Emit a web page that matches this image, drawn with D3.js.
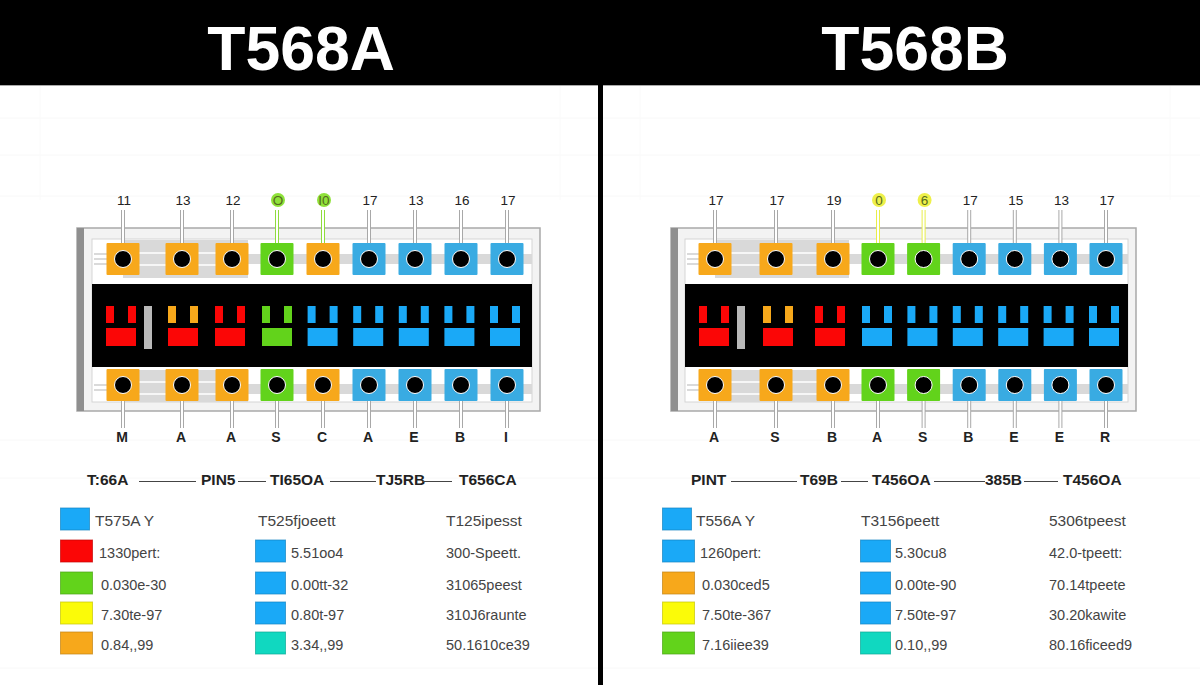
<!DOCTYPE html>
<html>
<head>
<meta charset="utf-8">
<title>T568A / T568B</title>
<script src="https://cdn.jsdelivr.net/npm/d3@7/dist/d3.min.js"></script>
<style>
  html, body { margin: 0; padding: 0; background: #fff; }
  svg { display: block; }
  text { font-family: "Liberation Sans", Arial, sans-serif; }
</style>
</head>
<body>
<div id="chart"></div>
<script>
// Data
const pins = [0, 1, 2, 3, 4, 5, 6, 7, 8];
const rows = [0, 1, 2, 3, 4];

const aTitle = "T568A";
const aTopLabels = ["11", "13", "12", "O", "I0", "17", "13", "16", "17"];
const aBottomLabels = ["M", "A", "A", "S", "C", "A", "E", "B", "I"];
const aPinColors = ["orange", "orange", "orange", "green", "orange", "blue", "blue", "blue", "blue"];
const aPlugTopColors = ["red", "orange", "red", "green", "sky", "sky", "sky", "sky", "sky"];
const aPlugColors = ["red", "red", "red", "green", "sky", "sky", "sky", "sky", "sky"];
const aHeader = ["T:66A", "PIN5", "TI65OA", "TJ5RB", "T656CA"];
const aSwatches1 = ["sky", "red", "green", "yellow", "orange"];
const aSwatches2 = [null, "sky", "sky", "sky", "teal"];
const aText1 = ["T575A Y", "1330pert:", "0.030e-30", "7.30te-97", "0.84,,99"];
const aText2 = ["T525fjoeett", "5.51oo4", "0.00tt-32", "0.80t-97", "3.34,,99"];
const aText3 = ["T125ipesst", "300-Speett.", "31065peest", "310J6raunte", "50.1610ce39"];

const bTitle = "T568B";
const bTopLabels = ["17", "17", "19", "0", "6", "17", "15", "13", "17"];
const bBottomLabels = ["A", "S", "B", "A", "S", "B", "E", "E", "R"];
const bPinColors = ["orange", "orange", "orange", "green", "green", "blue", "blue", "blue", "blue"];
const bPlugTopColors = ["red", "orange", "red", "sky", "sky", "sky", "sky", "sky", "sky"];
const bPlugColors = ["red", "red", "red", "sky", "sky", "sky", "sky", "sky", "sky"];
const bHeader = ["PINT", "T69B", "T456OA", "385B", "T456OA"];
const bSwatches1 = ["sky", "sky", "orange", "yellow", "green"];
const bSwatches2 = [null, "sky", "sky", "sky", "teal"];
const bText1 = ["T556A Y", "1260pert:", "0.030ced5", "7.50te-367", "7.16iiee39"];
const bText2 = ["T3156peett", "5.30cu8", "0.00te-90", "7.50te-97", "0.10,,99"];
const bText3 = ["5306tpeest", "42.0-tpeett:", "70.14tpeete", "30.20kawite", "80.16ficeed9"];

const svgWidth = 1200;
const svgHeight = 685;

const color = d3.scaleOrdinal()
  .domain(["orange", "green", "blue", "sky", "red", "yellow", "teal"])
  .range(["#f7a81b", "#62d31b", "#39abe2", "#1aa9f7", "#fb0606", "#fbfb08", "#10d8c0"]);

const svg = d3.select("#chart")
  .append("svg")
  .attr("width", svgWidth)
  .attr("height", svgHeight);

svg.append("rect").attr("width", svgWidth).attr("height", svgHeight).attr("fill", "#fff");

// very faint background grid
const faintH = [118, 155, 196, 440, 478, 668];
const faintV = [40, 560, 640, 1170];
svg.selectAll(".faintH").data(faintH).enter().append("line")
  .attr("x1", 0).attr("x2", svgWidth).attr("y1", d => d).attr("y2", d => d)
  .attr("stroke", "#f8f8f8");
svg.selectAll(".faintV").data(faintV).enter().append("line")
  .attr("x1", d => d).attr("x2", d => d).attr("y1", 85).attr("y2", 200)
  .attr("stroke", "#fafafa");

// header bar and divider
svg.append("rect").attr("width", svgWidth).attr("height", 85).attr("fill", "#000");
svg.append("line").attr("x1", 0).attr("x2", svgWidth).attr("y1", 85.5).attr("y2", 85.5)
  .attr("stroke", "#aaa");
svg.append("rect").attr("x", 598).attr("y", 85).attr("width", 5).attr("height", 600).attr("fill", "#000");

const rowScale = d3.scaleLinear().domain([0, 2, 4]).range([519, 583, 643]);

function drawPanel(p) {
  const g = svg.append("g");

  // pins are not evenly spaced on the left, so piecewise scales
  const pinX = d3.scaleLinear().domain([0, 1, 2, 3, 8]).range(p.pinRange);
  const plugX = d3.scaleLinear().domain([0, 1, 2, 3, 8]).range(p.plugRange);

  g.append("text")
    .attr("x", p.titleX).attr("y", 70)
    .attr("text-anchor", "middle")
    .attr("font-size", 62.5).attr("font-weight", "bold").attr("fill", "#fff")
    .text(p.title);

  // housing
  g.append("rect")
    .attr("x", p.frame[0]).attr("y", 228)
    .attr("width", p.frame[1] - p.frame[0]).attr("height", 183)
    .attr("fill", "#f3f3f3").attr("stroke", "#a9a9a9").attr("stroke-width", 1.5);
  g.append("rect")
    .attr("x", p.frame[0]).attr("y", 228)
    .attr("width", 7).attr("height", 183).attr("fill", "#8f8f8f");
  g.append("rect")
    .attr("x", p.inner[0]).attr("y", 239)
    .attr("width", p.inner[1] - p.inner[0]).attr("height", 163)
    .attr("fill", "#fff").attr("stroke", "#d5d5d5");

  // grey bands behind the pins
  const xLeft = pinX(0), xMid = pinX(2) + 16, xRight = p.inner[1];
  const bands = [
    [xLeft, xMid, 240, 278], [xMid, xRight, 254, 264],
    [xLeft, xMid, 370, 402], [xMid, xRight, 384, 394]
  ];
  g.selectAll(".band").data(bands).enter().append("rect")
    .attr("x", d => d[0]).attr("y", d => d[2])
    .attr("width", d => d[1] - d[0]).attr("height", d => d[3] - d[2])
    .attr("fill", "#d9d9d9");
  const whiteLines = [253, 265, 382, 394];
  g.selectAll(".white").data(whiteLines).enter().append("line")
    .attr("x1", xLeft).attr("x2", xMid).attr("y1", d => d).attr("y2", d => d)
    .attr("stroke", "#fff").attr("stroke-width", 1.5);

  // small wire ticks left of the first pin
  const wireTicks = [254, 259, 264, 385, 390];
  g.selectAll(".wire").data(wireTicks).enter().append("line")
    .attr("x1", p.inner[0] + 2).attr("x2", pinX(0) - 16).attr("y1", d => d).attr("y2", d => d)
    .attr("stroke", "#b5b5b5");

  // black plug body
  g.append("rect")
    .attr("x", p.inner[0]).attr("y", 284)
    .attr("width", p.inner[1] - p.inner[0]).attr("height", 83)
    .attr("fill", "#000");
  g.append("rect")
    .attr("x", p.greyBar).attr("y", 306)
    .attr("width", 8).attr("height", 43).attr("fill", "#b9b9b9");

  // contacts inside the plug
  const contacts = g.selectAll(".contact").data(pins).enter().append("g").attr("class", "contact");
  contacts.append("rect")
    .attr("x", d => plugX(d) - 15).attr("y", 328).attr("width", 30).attr("height", 18)
    .attr("fill", d => color(p.plugColors[d]));
  contacts.append("rect")
    .attr("x", d => plugX(d) - 15).attr("y", 306).attr("width", 8).attr("height", 17)
    .attr("fill", d => color(p.plugTopColors[d]));
  contacts.append("rect")
    .attr("x", d => plugX(d) + 7).attr("y", 306).attr("width", 8).attr("height", 17)
    .attr("fill", d => color(p.plugTopColors[d]));

  // stems, top and bottom
  const highlighted = d => d === 3 || d === 4;
  const stems = [[210, 259], [385, 428]];
  stems.forEach(s => {
    g.selectAll(null).data(pins).enter().append("line")
      .attr("x1", d => pinX(d)).attr("x2", d => pinX(d))
      .attr("y1", s[0]).attr("y2", s[1])
      .attr("stroke", d => (s[0] === 210 && highlighted(d) ? p.stem : "#a8a8a8")).attr("stroke-width", 4);
    g.selectAll(null).data(pins).enter().append("line")
      .attr("x1", d => pinX(d)).attr("x2", d => pinX(d))
      .attr("y1", s[0]).attr("y2", s[1])
      .attr("stroke", "#fff").attr("stroke-width", 2);
  });

  // pin squares and holes
  [259, 385].forEach(y => {
    const pin = g.selectAll(null).data(pins).enter().append("g");
    pin.append("rect")
      .attr("x", d => pinX(d) - 16.5).attr("y", y - 16)
      .attr("width", 33).attr("height", 32).attr("rx", 1)
      .attr("fill", d => color(p.pinColors[d]));
    pin.append("circle")
      .attr("cx", d => pinX(d)).attr("cy", y).attr("r", 8.5)
      .attr("fill", "#000").attr("stroke", "#fff").attr("stroke-width", 1);
  });

  // glow behind the two highlighted top labels
  g.selectAll(".glow").data([3, 4]).enter().append("circle")
    .attr("cx", d => pinX(d) + 1).attr("cy", 200).attr("r", 7)
    .attr("fill", p.glow);

  g.selectAll(".topLabel").data(pins).enter().append("text")
    .attr("x", d => pinX(d) + 1).attr("y", 205)
    .attr("text-anchor", "middle").attr("font-size", 13.5)
    .attr("fill", d => (highlighted(d) ? "#556b20" : "#222"))
    .text(d => p.topLabels[d]);
  g.selectAll(".bottomLabel").data(pins).enter().append("text")
    .attr("x", d => pinX(d) - 1).attr("y", 442)
    .attr("text-anchor", "middle").attr("font-size", 14).attr("font-weight", "bold").attr("fill", "#222")
    .text(d => p.bottomLabels[d]);

  // header row of the table with rules in between
  g.selectAll(".head").data(p.header).enter().append("text")
    .attr("x", (d, i) => p.headX[i]).attr("y", 485)
    .attr("font-size", 15.5).attr("font-weight", "bold").attr("fill", "#222")
    .text(d => d);
  g.selectAll(".rule").data(p.rules).enter().append("line")
    .attr("x1", d => d[0]).attr("x2", d => d[1]).attr("y1", 481.5).attr("y2", 481.5)
    .attr("stroke", "#444");

  // swatches
  const swatch = (values, x0, w) => {
    g.selectAll(null).data(values.map((c, i) => ({ c, i })).filter(d => d.c)).enter().append("rect")
      .attr("x", d => x0 + 0.5).attr("y", d => rowScale(d.i) - 11)
      .attr("width", d => (d.i === 0 ? w - 3 : w)).attr("height", 22)
      .attr("fill", d => color(d.c))
      .attr("stroke", d => d3.color(color(d.c)).darker(0.7)).attr("stroke-opacity", 0.7);
  };
  swatch(p.swatches1, p.swX[0], 32);
  swatch(p.swatches2, p.swX[1], 30);

  // table text, the first row runs a bit larger
  const column = (values, xs) => {
    g.selectAll(null).data(values.map((t, i) => ({ t, i }))).enter().append("text")
      .attr("x", d => xs[d.i]).attr("y", d => rowScale(d.i) + 7)
      .attr("font-size", d => (d.i === 0 ? 15.5 : 14.5)).attr("fill", "#444")
      .text(d => d.t);
  };
  column(p.text1, p.textX1);
  column(p.text2, p.textX2);
  column(p.text3, p.textX3);
}

drawPanel({
  title: aTitle, titleX: 301,
  frame: [77, 540], inner: [92, 532], greyBar: 144,
  pinRange: [123, 182, 232, 277, 507],
  plugRange: [121, 183, 230, 277, 505],
  glow: "#8fe23a", stem: "#8fdc3c",
  topLabels: aTopLabels, bottomLabels: aBottomLabels,
  pinColors: aPinColors, plugColors: aPlugColors, plugTopColors: aPlugTopColors,
  header: aHeader, headX: [87, 201, 270, 376, 459],
  rules: [[139, 196], [238, 266], [330, 376], [423, 452]],
  swatches1: aSwatches1, swatches2: aSwatches2, swX: [60, 255],
  text1: aText1, text2: aText2, text3: aText3,
  textX1: [95, 99, 101, 101, 101], textX2: [258, 291, 291, 291, 291], textX3: [446, 446, 446, 446, 446]
});

drawPanel({
  title: bTitle, titleX: 915,
  frame: [671, 1136], inner: [685, 1128], greyBar: 737,
  pinRange: [715, 776, 833, 878, 1106],
  plugRange: [714, 778, 830, 877, 1104],
  glow: "#eef04a", stem: "#e8ee4a",
  topLabels: bTopLabels, bottomLabels: bBottomLabels,
  pinColors: bPinColors, plugColors: bPlugColors, plugTopColors: bPlugTopColors,
  header: bHeader, headX: [691, 800, 872, 985, 1063],
  rules: [[731, 797], [841, 868], [934, 985], [1024, 1058]],
  swatches1: bSwatches1, swatches2: bSwatches2, swX: [662, 860],
  text1: bText1, text2: bText2, text3: bText3,
  textX1: [696, 700, 702, 702, 702], textX2: [861, 895, 895, 895, 895], textX3: [1049, 1049, 1049, 1049, 1049]
});
</script>
</body>
</html>
